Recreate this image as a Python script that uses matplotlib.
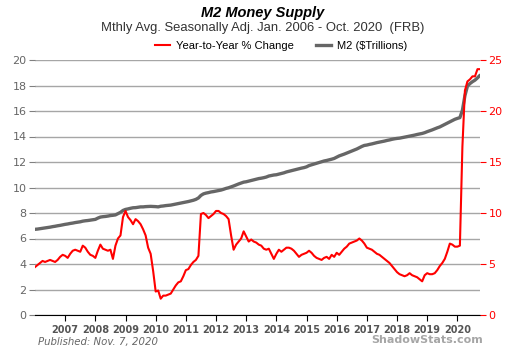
import matplotlib.pyplot as plt
import numpy as np

# monthly data, Jan 2006 - Oct 2020
start_year = 2006
m2_trillions = [
    # 2006
    6.72, 6.74, 6.77, 6.80, 6.83, 6.86, 6.89, 6.93, 6.96, 7.00, 7.03, 7.07,
    # 2007
    7.11, 7.14, 7.18, 7.21, 7.25, 7.28, 7.31, 7.36, 7.39, 7.41, 7.44, 7.47,
    # 2008
    7.50, 7.60, 7.68, 7.71, 7.73, 7.76, 7.80, 7.82, 7.85, 7.95, 8.05, 8.20,
    # 2009
    8.28, 8.32, 8.37, 8.41, 8.42, 8.45, 8.48, 8.48, 8.50, 8.51, 8.52, 8.51,
    # 2010
    8.50, 8.48, 8.53, 8.55, 8.58, 8.60, 8.62, 8.66, 8.70, 8.74, 8.78, 8.82,
    # 2011
    8.86, 8.90, 8.95, 9.00, 9.07, 9.18, 9.38, 9.50, 9.56, 9.60, 9.65, 9.68,
    # 2012
    9.72, 9.76, 9.80, 9.86, 9.93, 9.98, 10.05, 10.12, 10.20, 10.28, 10.35, 10.42,
    # 2013
    10.45, 10.50, 10.55, 10.60, 10.65, 10.70, 10.73, 10.77, 10.82, 10.90, 10.94, 10.98,
    # 2014
    11.00, 11.05, 11.10, 11.15, 11.22, 11.27, 11.32, 11.37, 11.42, 11.47, 11.52, 11.56,
    # 2015
    11.62, 11.72, 11.78, 11.84, 11.90, 11.96, 12.02, 12.08, 12.12, 12.17, 12.22, 12.28,
    # 2016
    12.38, 12.48, 12.55, 12.62, 12.70, 12.78, 12.86, 12.94, 13.02, 13.12, 13.22, 13.30,
    # 2017
    13.33, 13.38, 13.42, 13.47, 13.52, 13.56, 13.60, 13.64, 13.69, 13.73, 13.78, 13.82,
    # 2018
    13.85, 13.87, 13.91, 13.95, 13.99, 14.03, 14.07, 14.11, 14.16, 14.20, 14.24, 14.30,
    # 2019
    14.38, 14.45, 14.52, 14.60, 14.68, 14.75, 14.85, 14.95, 15.05, 15.15, 15.25, 15.35,
    # 2020
    15.42, 15.48, 16.05, 17.20, 17.95, 18.15, 18.30, 18.42, 18.60, 18.80,
]
yoy_change = [
    # 2006
    4.7, 4.9, 5.1, 5.3, 5.2, 5.3, 5.4, 5.3, 5.2, 5.4, 5.7, 5.9,
    # 2007
    5.8, 5.6, 6.0, 6.3, 6.4, 6.3, 6.2, 6.8, 6.6, 6.2, 5.9, 5.8,
    # 2008
    5.6, 6.3, 6.9, 6.5, 6.4, 6.3, 6.4, 5.5, 6.8, 7.5, 7.8, 9.6,
    # 2009
    10.2, 9.6, 9.3, 8.9, 9.4, 9.2, 8.9, 8.4, 7.8, 6.6, 6.0, 4.3,
    # 2010
    2.3, 2.4, 1.6, 1.9, 1.9, 2.0, 2.1, 2.5, 2.9, 3.2, 3.3, 3.8,
    # 2011
    4.4, 4.5, 4.9, 5.2, 5.4, 5.8, 9.9, 10.0, 9.8, 9.5, 9.7, 9.9,
    # 2012
    10.2, 10.2, 10.0, 9.9, 9.7, 9.4, 7.8, 6.4, 6.9, 7.2, 7.5, 8.2,
    # 2013
    7.7, 7.2, 7.4, 7.2, 7.1, 6.9, 6.8, 6.5, 6.4, 6.5, 6.0, 5.5,
    # 2014
    6.0, 6.4, 6.2, 6.4, 6.6, 6.6, 6.5, 6.3, 6.0, 5.7, 5.9, 6.0,
    # 2015
    6.1, 6.3, 6.1, 5.8, 5.6, 5.5, 5.4, 5.6, 5.7, 5.5, 5.9, 5.7,
    # 2016
    6.1, 5.9, 6.2, 6.5, 6.7, 7.0, 7.1, 7.2, 7.3, 7.5, 7.3, 7.0,
    # 2017
    6.6, 6.5, 6.4, 6.2, 6.0, 5.9, 5.7, 5.5, 5.3, 5.1, 4.8, 4.5,
    # 2018
    4.2, 4.0, 3.9, 3.8, 3.9, 4.1, 3.9, 3.8, 3.7, 3.5, 3.3, 3.9,
    # 2019
    4.1, 4.0, 4.0, 4.1, 4.4, 4.8, 5.1, 5.5, 6.2, 7.0, 6.9, 6.7,
    # 2020
    6.7, 6.8, 16.5, 22.0, 22.9, 23.1, 23.4, 23.4, 24.1, 24.1,
]
year_ticks = list(range(2007, 2021))

months = start_year + np.arange(len(m2_trillions)) / 12

fig = plt.figure(figsize=(5.25, 3.5), dpi=100)
ax = fig.add_axes([35 / 525, 35 / 350, 445 / 525, 255 / 350])
ax2 = ax.twinx()

ax.plot(months, m2_trillions, color="#666666", lw=2.4, solid_capstyle="round")
ax2.plot(months, yoy_change, color="#ff0000", lw=1.5)

ax.set_xlim(months[0], months[-1])
ax.set_ylim(0, 20)
ax.set_yticks(range(0, 21, 2))
ax2.set_ylim(0, 25)
ax2.set_yticks(range(0, 26, 5))

ax.grid(axis="y", color="#a6a6a6", lw=1)
ax.set_axisbelow(True)
for a in (ax, ax2):
    for side in ("top", "left", "right"):
        a.spines[side].set_visible(False)
ax.spines["bottom"].set_color("black")
ax2.spines["bottom"].set_visible(False)

ax.set_xticks(year_ticks)
ax.set_xticklabels([str(y) for y in year_ticks], fontweight="bold",
                   color="#555555", fontsize=7)
ax.tick_params(axis="x", length=4, color="black", pad=3)
ax.tick_params(axis="y", length=4, color="#808080", labelcolor="#666666",
               labelsize=8, pad=2)
ax2.tick_params(axis="y", length=4, color="#ff0000", labelcolor="#ff0000",
                labelsize=8, pad=2)

fig.text(0.5, 1 - 13 / 350, "M2 Money Supply", ha="center", va="center",
         fontsize=10.5, fontweight="bold", fontstyle="italic",
         family="Liberation Sans")
fig.text(0.5, 1 - 28 / 350,
         "Mthly Avg. Seasonally Adj. Jan. 2006 - Oct. 2020  (FRB)",
         ha="center", va="center", fontsize=9.4, color="#333333",
         family="Liberation Sans")

handles = [
    plt.Line2D([], [], color="#ff0000", lw=1.5),
    plt.Line2D([], [], color="#666666", lw=2.4),
]
fig.legend(handles, ["Year-to-Year % Change", "M2 ($Trillions)"],
           loc="center", bbox_to_anchor=(0.535, 1 - 46 / 350), ncol=2,
           frameon=False, handlelength=1.4, handletextpad=0.5,
           columnspacing=2.0, prop={"family": "Liberation Sans", "size": 8})

fig.text(38 / 525, 1 - 342 / 350, "Published: Nov. 7, 2020", ha="left",
         va="center", fontsize=7.3, fontstyle="italic", color="#666666")
fig.text(483 / 525, 1 - 340 / 350, "ShadowStats.com", ha="right",
         va="center", fontsize=8, fontweight="bold", color="#a6a6a6")

fig.savefig("out.png", dpi=100)
plt.close(fig)
